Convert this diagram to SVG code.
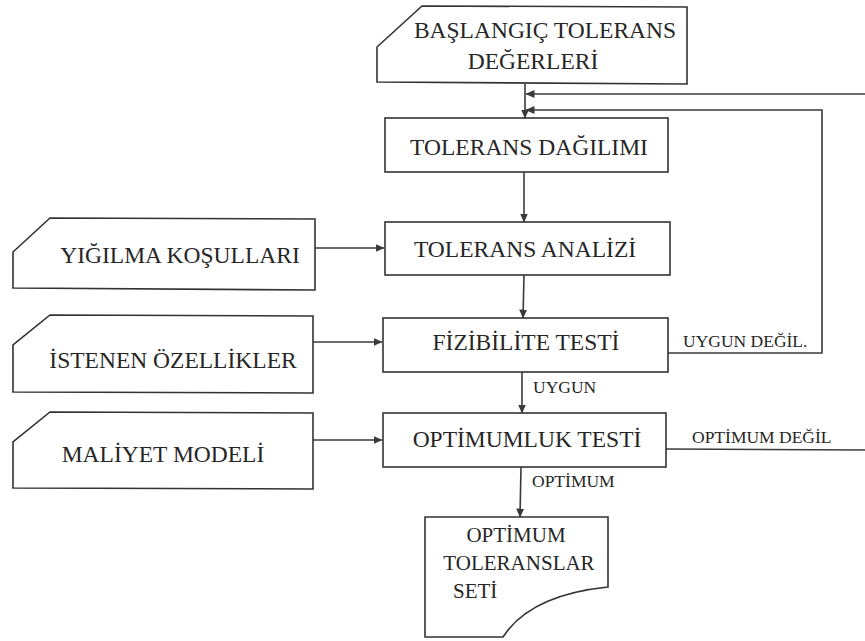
<svg xmlns="http://www.w3.org/2000/svg" width="865" height="641" viewBox="0 0 865 641">
  <style>
    .shape { fill: #ffffff; stroke: #333333; stroke-width: 1.6; }
    .conn { fill: none; stroke: #3a3a3a; stroke-width: 1.6; }
    .lbl { font-family: "Liberation Serif", "Times New Roman", serif; font-size: 23.5px; fill: #262626; text-anchor: middle; }
    .doc { font-family: "Liberation Serif", "Times New Roman", serif; font-size: 21px; fill: #262626; }
    .small { font-family: "Liberation Serif", "Times New Roman", serif; font-size: 17.5px; fill: #262626; }
  </style>
  <defs>
    <marker id="arrow" viewBox="0 0 9 8" refX="8.5" refY="4" markerWidth="9" markerHeight="8" markerUnits="userSpaceOnUse" orient="auto">
      <path d="M0,0 L9,4 L0,8 z" fill="#3a3a3a"/>
    </marker>
  </defs>

  <rect width="865" height="641" fill="#ffffff"/>

  <!-- connectors -->
  <g id="connectors">
    <line class="conn" x1="525" y1="84" x2="525" y2="118" marker-end="url(#arrow)"/>
    <line class="conn" x1="865" y1="94" x2="526" y2="94" marker-end="url(#arrow)"/>
    <polyline class="conn" points="668,353 822,353 822,110 526,110" marker-end="url(#arrow)"/>
    <line class="conn" x1="524" y1="172" x2="524" y2="222" marker-end="url(#arrow)"/>
    <line class="conn" x1="524" y1="275" x2="523" y2="318" marker-end="url(#arrow)"/>
    <line class="conn" x1="522" y1="372" x2="522" y2="413" marker-end="url(#arrow)"/>
    <line class="conn" x1="521" y1="467" x2="520" y2="517" marker-end="url(#arrow)"/>
    <line class="conn" x1="666" y1="449" x2="865" y2="450"/>
    <line class="conn" x1="315" y1="248" x2="384" y2="248" marker-end="url(#arrow)"/>
    <line class="conn" x1="313" y1="342" x2="382" y2="342" marker-end="url(#arrow)"/>
    <line class="conn" x1="313" y1="440" x2="382" y2="440" marker-end="url(#arrow)"/>
    <text class="small" x="683" y="347">UYGUN DEĞİL.</text>
    <text class="small" x="533" y="393">UYGUN</text>
    <text class="small" x="692" y="443">OPTİMUM DEĞİL</text>
    <text class="small" x="532" y="487">OPTİMUM</text>
  </g>

  <!-- initial tolerance values (manual input) -->
  <g id="baslangic">
    <path class="shape" d="M422,6 L687,7 L687,84 L377,82 L377,47 Z"/>
    <text class="lbl" x="545" y="38">BAŞLANGIÇ TOLERANS</text>
    <text class="lbl" x="533" y="69">DEĞERLERİ</text>
  </g>

  <g id="dagilim">
    <rect class="shape" x="385" y="118" width="283" height="54"/>
    <text class="lbl" x="529" y="155">TOLERANS DAĞILIMI</text>
  </g>

  <g id="analiz">
    <rect class="shape" x="385" y="222" width="285" height="53"/>
    <text class="lbl" x="525" y="257">TOLERANS ANALİZİ</text>
  </g>

  <g id="fizibilite">
    <rect class="shape" x="383" y="318" width="285" height="54"/>
    <text class="lbl" x="526" y="350">FİZİBİLİTE TESTİ</text>
  </g>

  <g id="optimumluk">
    <rect class="shape" x="383" y="413" width="283" height="54"/>
    <text class="lbl" x="527" y="447">OPTİMUMLUK TESTİ</text>
  </g>

  <g id="yigilma">
    <path class="shape" d="M50,218 L315,219 L315,290 L13,288 L13,252 Z"/>
    <text class="lbl" x="180" y="263">YIĞILMA KOŞULLARI</text>
  </g>

  <g id="ozellikler">
    <path class="shape" d="M50,315 L313,316 L313,393 L13,392 L13,345 Z"/>
    <text class="lbl" x="173" y="368">İSTENEN ÖZELLİKLER</text>
  </g>

  <g id="maliyet">
    <path class="shape" d="M50,412 L313,413 L313,489 L13,488 L13,442 Z"/>
    <text class="lbl" x="163" y="462">MALİYET MODELİ</text>
  </g>

  <!-- output document -->
  <g id="sonuc">
    <path class="shape" d="M425,517 L608,517 L608,587 Q530,595 503,637 L425,637 Z"/>
    <text class="doc" x="516" y="542" text-anchor="middle">OPTİMUM</text>
    <text class="doc" x="519" y="570" text-anchor="middle">TOLERANSLAR</text>
    <text class="doc" x="453" y="598">SETİ</text>
  </g>
</svg>
